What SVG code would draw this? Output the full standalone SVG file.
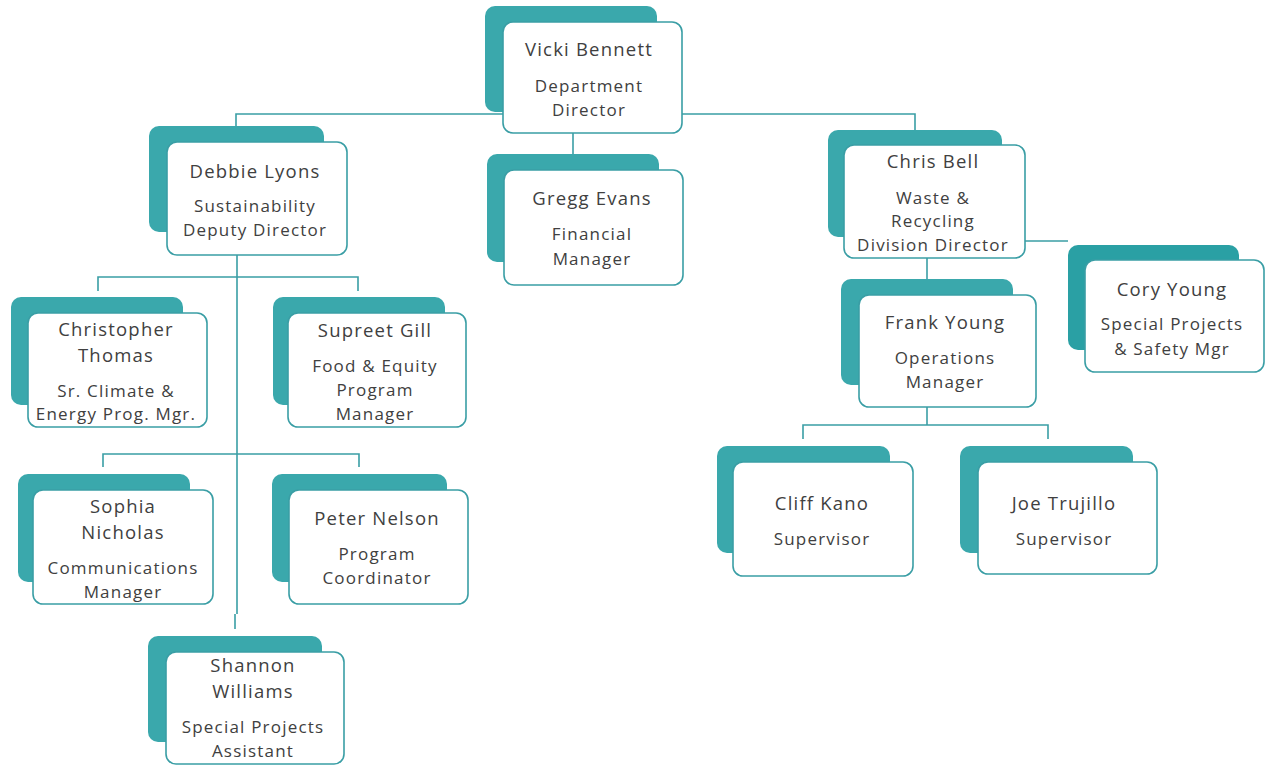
<svg xmlns="http://www.w3.org/2000/svg" width="1266" height="765" viewBox="0 0 1266 765">
<style>
.back{fill:#3aa8ac}
.front{fill:#fff;stroke:#3a9ea5;stroke-width:1.6}
.conn{stroke:#3a9ea5;stroke-width:1.6;fill:none}
text{font-family:"Open Sans","Noto Sans",sans-serif;fill:#404040;text-anchor:middle;dominant-baseline:central;letter-spacing:1.2px}
.n{font-size:18.5px}
.t{font-size:17px}
</style>
<rect width="1266" height="765" fill="#fff"/>
<g id="connectors">
<path class="conn" d="M236,127 V114 H503"/>
<path class="conn" d="M682,114 H915 V131"/>
<path class="conn" d="M573,133 V155"/>
<path class="conn" d="M237,255 V614 M235,614 V629"/>
<path class="conn" d="M98,291 V277 H358 V291"/>
<path class="conn" d="M103,467 V454 H359 V467"/>
<path class="conn" d="M1025,241 H1068"/>
<path class="conn" d="M927,258 V280"/>
<path class="conn" d="M927,407 V425"/>
<path class="conn" d="M803,439 V425 H1048 V439"/>
</g>
<g id="vicki">
<rect class="back" x="485" y="6" width="172" height="106" rx="10"/>
<rect class="front" x="503" y="22" width="179" height="111" rx="10"/>
<text class="n" x="589" y="48">Vicki Bennett</text>
<text class="t" x="589" y="85">Department</text>
<text class="t" x="589" y="109">Director</text>
</g>
<g id="debbie">
<rect class="back" x="149" y="126" width="175" height="106" rx="10"/>
<rect class="front" x="167" y="142" width="180" height="113" rx="10"/>
<text class="n" x="255" y="170">Debbie Lyons</text>
<text class="t" x="255" y="205">Sustainability</text>
<text class="t" x="255" y="229">Deputy Director</text>
</g>
<g id="gregg">
<rect class="back" x="487" y="154" width="172" height="108" rx="10"/>
<rect class="front" x="504" y="170" width="179" height="115" rx="10"/>
<text class="n" x="592" y="197">Gregg Evans</text>
<text class="t" x="592" y="233">Financial</text>
<text class="t" x="592" y="258">Manager</text>
</g>
<g id="chris">
<rect class="back" x="828" y="130" width="174" height="107" rx="10"/>
<rect class="front" x="844" y="145" width="181" height="113" rx="10"/>
<text class="n" x="933" y="160">Chris Bell</text>
<text class="t" x="933" y="197">Waste &amp;</text>
<text class="t" x="933" y="220">Recycling</text>
<text class="t" x="933" y="244">Division Director</text>
</g>
<g id="cory">
<rect class="back" x="1068" y="245" width="171" height="105" rx="10" style="fill:#2aa0a4"/>
<rect class="front" x="1085" y="260" width="179" height="112" rx="10"/>
<text class="n" x="1172" y="288">Cory Young</text>
<text class="t" x="1172" y="323">Special Projects</text>
<text class="t" x="1172" y="348">&amp; Safety Mgr</text>
</g>
<g id="frank">
<rect class="back" x="841" y="279" width="172" height="106" rx="10"/>
<rect class="front" x="859" y="295" width="177" height="112" rx="10"/>
<text class="n" x="945" y="321">Frank Young</text>
<text class="t" x="945" y="357">Operations</text>
<text class="t" x="945" y="381">Manager</text>
</g>
<g id="christopher">
<rect class="back" x="11" y="297" width="172" height="108" rx="10"/>
<rect class="front" x="28" y="313" width="179" height="114" rx="10"/>
<text class="n" x="116" y="328">Christopher</text>
<text class="n" x="116" y="354">Thomas</text>
<text class="t" x="116" y="390">Sr. Climate &amp;</text>
<text class="t" x="116" y="413">Energy Prog. Mgr.</text>
</g>
<g id="supreet">
<rect class="back" x="273" y="297" width="172" height="108" rx="10"/>
<rect class="front" x="288" y="313" width="178" height="114" rx="10"/>
<text class="n" x="375" y="329">Supreet Gill</text>
<text class="t" x="375" y="365">Food &amp; Equity</text>
<text class="t" x="375" y="389">Program</text>
<text class="t" x="375" y="413">Manager</text>
</g>
<g id="sophia">
<rect class="back" x="18" y="474" width="172" height="108" rx="10"/>
<rect class="front" x="33" y="490" width="180" height="114" rx="10"/>
<text class="n" x="123" y="505">Sophia</text>
<text class="n" x="123" y="531">Nicholas</text>
<text class="t" x="123" y="567">Communications</text>
<text class="t" x="123" y="591">Manager</text>
</g>
<g id="peter">
<rect class="back" x="272" y="474" width="175" height="108" rx="10"/>
<rect class="front" x="289" y="490" width="179" height="114" rx="10"/>
<text class="n" x="377" y="517">Peter Nelson</text>
<text class="t" x="377" y="553">Program</text>
<text class="t" x="377" y="577">Coordinator</text>
</g>
<g id="shannon">
<rect class="back" x="148" y="636" width="174" height="106" rx="10"/>
<rect class="front" x="166" y="652" width="178" height="112" rx="10"/>
<text class="n" x="253" y="664">Shannon</text>
<text class="n" x="253" y="690">Williams</text>
<text class="t" x="253" y="726">Special Projects</text>
<text class="t" x="253" y="750">Assistant</text>
</g>
<g id="cliff">
<rect class="back" x="717" y="446" width="173" height="107" rx="10"/>
<rect class="front" x="733" y="462" width="180" height="114" rx="10"/>
<text class="n" x="822" y="502">Cliff Kano</text>
<text class="t" x="822" y="538">Supervisor</text>
</g>
<g id="joe">
<rect class="back" x="960" y="446" width="173" height="107" rx="10"/>
<rect class="front" x="978" y="462" width="179" height="112" rx="10"/>
<text class="n" x="1064" y="502">Joe Trujillo</text>
<text class="t" x="1064" y="538">Supervisor</text>
</g>
</svg>
